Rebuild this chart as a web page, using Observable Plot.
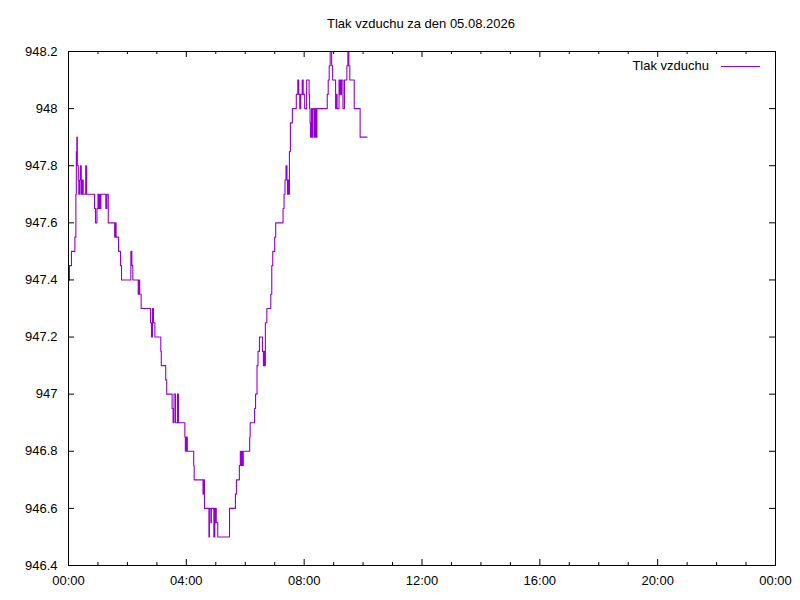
<!DOCTYPE html>
<html>
<head>
<meta charset="utf-8">
<script src="https://cdn.jsdelivr.net/npm/d3@7"></script>
<script src="https://cdn.jsdelivr.net/npm/@observablehq/plot@0.6"></script>
<style>
  body { margin: 0; background: #fff; }
  #wrap { position: relative; width: 800px; height: 600px; font-family: "Liberation Sans", Arial, sans-serif; color: #000; }
  #title { position: absolute; top: 16px; left: 0; width: 842px; text-align: center; font-size: 13px; line-height: 16px; }
  #legend-text { position: absolute; top: 58px; right: 91px; font-size: 13px; line-height: 16px; }
  #legend-line { position: absolute; top: 66px; left: 721px; width: 39px; border-top: 1px solid #9400d3; }
</style>
</head>
<body>
<div id="wrap">
  <div id="chart"></div>
  <div id="title">Tlak vzduchu za den 05.08.2026</div>
  <div id="legend-text">Tlak vzduchu</div>
  <div id="legend-line"></div>
</div>
<script>
const day = "2026-08-05";
const seriesName = "Tlak vzduchu";
const times = [
  "00:00","00:02","00:06","00:13","00:15","00:16","00:17","00:18","00:20","00:21",
  "00:23","00:24","00:26","00:28","00:30","00:35","00:37","00:53","00:55","00:58",
  "01:00","01:02","01:03","01:04","01:06","01:16","01:18","01:21","01:34","01:36",
  "01:37","01:42","01:46","01:48","02:07","02:09","02:11","02:22","02:23","02:25",
  "02:28","02:47","02:49","02:51","02:53","02:56","03:08","03:09","03:18","03:20",
  "03:31","03:33","03:35","03:38","03:42","03:44","03:57","03:58","04:00","04:02",
  "04:15","04:16","04:34","04:35","04:37","04:46","04:47","04:50","04:51","04:56",
  "04:58","04:59","05:00","05:01","05:04","05:28","05:40","05:42","05:48","05:50",
  "05:52","05:53","05:54","05:56","06:09","06:10","06:19","06:21","06:24","06:26",
  "06:29","06:35","06:37","06:38","06:39","06:41","06:44","06:52","06:54","06:56",
  "07:00","07:02","07:17","07:19","07:21","07:23","07:25","07:26","07:27","07:29",
  "07:30","07:32","07:36","07:44","07:47","07:49","07:51","07:53","07:56","07:58",
  "08:01","08:05","08:10","08:11","08:12","08:13","08:15","08:16","08:18","08:21",
  "08:23","08:24","08:26","08:47","08:49","08:51","08:53","08:56","08:58","09:04",
  "09:06","09:07","09:11","09:12","09:13","09:15","09:16","09:19","09:22","09:27",
  "09:29","09:31","09:33","09:42","09:54","10:08"
];
const values = [
  947.40,947.45,947.50,947.55,947.70,947.85,947.90,947.80,947.75,947.70,
  947.75,947.80,947.70,947.75,947.70,947.80,947.70,947.65,947.60,947.65,
  947.70,947.65,947.70,947.65,947.70,947.65,947.70,947.60,947.55,947.60,
  947.55,947.50,947.45,947.40,947.50,947.45,947.40,947.35,947.40,947.35,
  947.30,947.25,947.20,947.30,947.25,947.20,947.15,947.10,947.05,947.00,
  946.95,946.90,947.00,946.90,947.00,946.90,946.85,946.80,946.85,946.80,
  946.75,946.70,946.65,946.70,946.60,946.50,946.60,946.55,946.60,946.50,
  946.60,946.55,946.60,946.55,946.50,946.60,946.65,946.70,946.75,946.80,
  946.75,946.80,946.75,946.80,946.85,946.90,946.95,947.00,947.10,947.15,
  947.20,947.15,947.10,947.15,947.10,947.25,947.30,947.35,947.45,947.50,
  947.55,947.60,947.65,947.70,947.75,947.80,947.75,947.70,947.75,947.70,
  947.85,947.95,948.00,948.05,948.10,948.05,948.00,948.05,948.10,948.05,
  948.00,948.10,948.05,948.00,947.95,947.90,948.00,947.90,948.00,947.90,
  948.00,947.90,948.00,948.05,948.10,948.15,948.20,948.15,948.10,948.00,
  948.05,948.00,948.10,948.05,948.10,948.05,948.10,948.00,948.10,948.15,
  948.20,948.15,948.10,948.00,947.90,947.90
];
const yTicks = [946.4, 946.6, 946.8, 947.0, 947.2, 947.4, 947.6, 947.8, 948.0, 948.2];
const yTickLabels = ["946.4","946.6","946.8","947","947.2","947.4","947.6","947.8","948","948.2"];
const xTickHours = [0, 4, 8, 12, 16, 20, 24];
const xTickLabels = ["00:00","04:00","08:00","12:00","16:00","20:00","00:00"];
const minorHours = [1,2,3,5,6,7,9,10,11,13,14,15,17,18,19,21,22,23];

const hourDate = h => new Date(Date.UTC(2026, 7, 5, h));
const toDate = t => new Date(`${day}T${t}:00Z`);
const data = times.map((t, i) => ({time: toDate(t), value: values[i], series: seriesName}));
const xTickDates = xTickHours.map(hourDate);
const minorDates = minorHours.map(hourDate);

const W = 800, H = 600, mL = 68, mR = 25, mT = 51, mB = 35;
const innerW = W - mL - mR, innerH = H - mT - mB;
const font = '"Liberation Sans", Arial, sans-serif';

const chart = Plot.plot({
  width: W, height: H,
  marginLeft: mL, marginRight: mR, marginTop: mT, marginBottom: mB,
  style: {fontFamily: font, fontSize: "13px", background: "white", color: "black", overflow: "visible"},
  x: {type: "utc", domain: [hourDate(0), hourDate(24)]},
  y: {domain: [946.4, 948.2]},
  marks: [
    Plot.line(data, {x: "time", y: "value", curve: "step-after", stroke: "#9400d3", strokeWidth: 1.1}),
    Plot.frame({stroke: "black", strokeWidth: 1}),
    Plot.tickX(xTickDates, {x: d => d, insetTop: innerH - 6, stroke: "black"}),
    Plot.tickX(xTickDates, {x: d => d, insetBottom: innerH - 6, stroke: "black"}),
    Plot.tickX(minorDates, {x: d => d, insetTop: innerH - 3, stroke: "black"}),
    Plot.tickX(minorDates, {x: d => d, insetBottom: innerH - 3, stroke: "black"}),
    Plot.tickY(yTicks, {y: d => d, insetRight: innerW - 6, stroke: "black"}),
    Plot.tickY(yTicks, {y: d => d, insetLeft: innerW - 6, stroke: "black"}),
    Plot.axisX(xTickDates, {
      anchor: "bottom", tickSize: 0, tickPadding: 10, fontSize: 13,
      tickFormat: d => xTickLabels[xTickDates.findIndex(t => +t === +d)],
      label: null
    }),
    Plot.axisY(yTicks, {
      anchor: "left", tickSize: 0, tickPadding: 11, fontSize: 13,
      tickFormat: d => yTickLabels[yTicks.indexOf(d)],
      label: null
    })
  ]
});
document.getElementById("chart").appendChild(chart);
</script>
</body>
</html>
